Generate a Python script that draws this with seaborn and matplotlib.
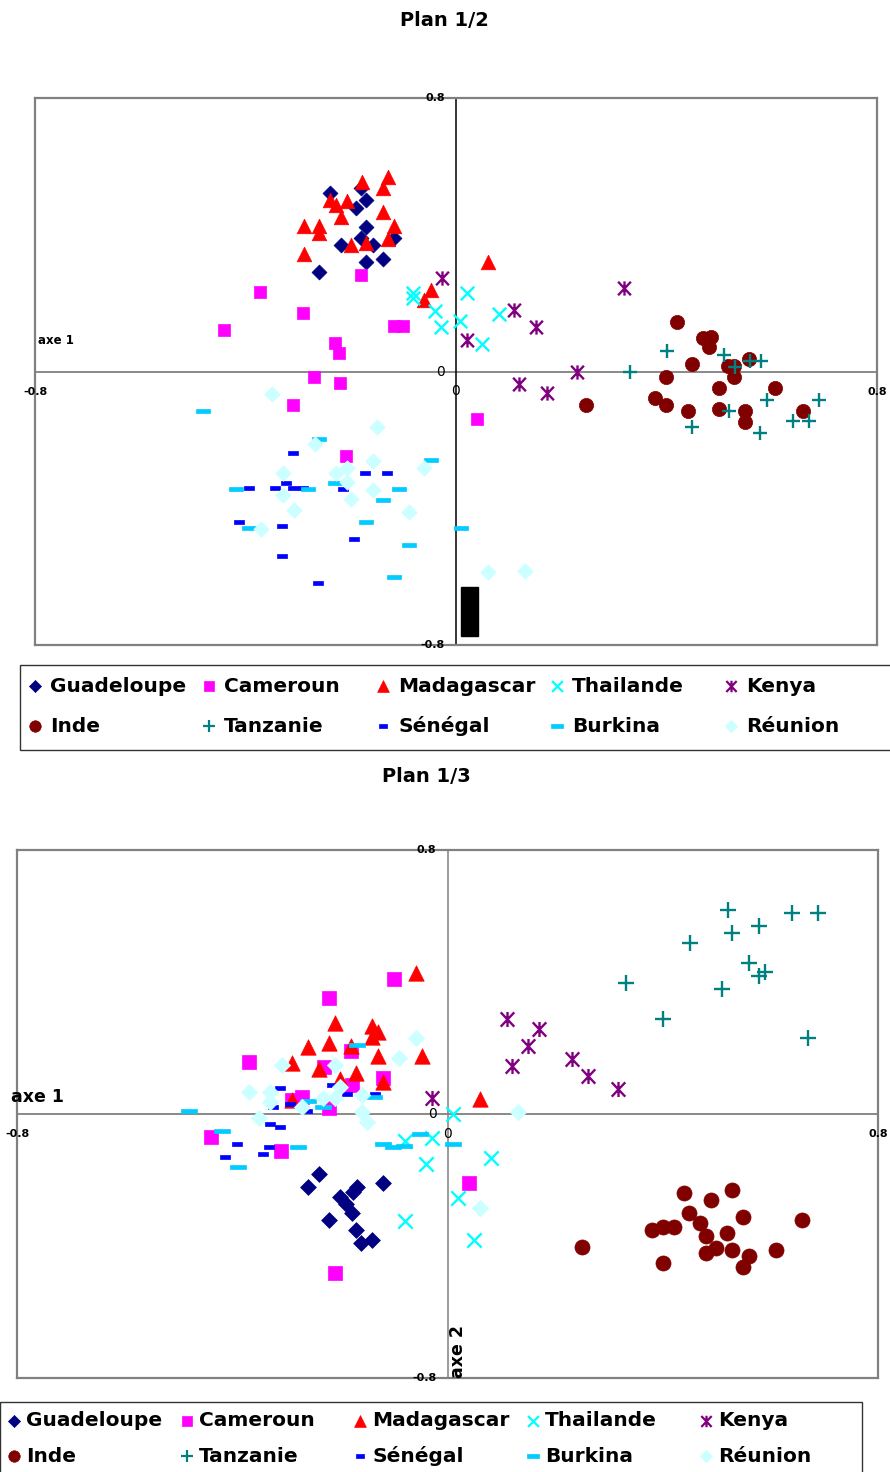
import matplotlib
matplotlib.use('Agg')
import matplotlib.pyplot as plt
import seaborn as sns
from matplotlib.path import Path
from matplotlib.patches import Rectangle

# Plan 1/2 (axe 1 x axe 2)
p12_guadeloupe = [(-0.240, 0.522), (-0.181, 0.537), (-0.171, 0.501), (-0.190, 0.478), (-0.171, 0.423),
                  (-0.181, 0.390), (-0.219, 0.370), (-0.158, 0.370), (-0.118, 0.390), (-0.171, 0.320),
                  (-0.139, 0.329), (-0.260, 0.291)]
p12_cameroun = [(-0.181, 0.282), (-0.373, 0.232), (-0.291, 0.171), (-0.441, 0.121), (-0.118, 0.133),
                (-0.101, 0.133), (-0.230, 0.083), (-0.222, 0.054), (-0.270, -0.016), (-0.221, -0.034),
                (-0.310, -0.098), (-0.209, -0.247), (0.040, -0.139)]
p12_madagascar = [(-0.179, 0.554), (-0.129, 0.569), (-0.139, 0.537), (-0.240, 0.501), (-0.228, 0.487),
                  (-0.207, 0.499), (-0.139, 0.466), (-0.219, 0.452), (-0.289, 0.425), (-0.260, 0.425),
                  (-0.260, 0.405), (-0.118, 0.425), (-0.200, 0.370), (-0.171, 0.376), (-0.129, 0.387),
                  (-0.289, 0.344), (0.061, 0.320), (-0.048, 0.238), (-0.061, 0.209)]
p12_thailande = [(-0.082, 0.230), (-0.082, 0.215), (-0.040, 0.176), (-0.029, 0.130), (0.021, 0.230),
                 (0.008, 0.148), (0.049, 0.081), (0.082, 0.168)]
p12_kenya = [(-0.027, 0.273), (0.021, 0.092), (0.110, 0.180), (0.152, 0.130), (0.319, 0.244),
             (0.230, 0.000), (0.120, -0.037), (0.173, -0.063)]
p12_inde = [(0.420, 0.145), (0.470, 0.098), (0.485, 0.101), (0.481, 0.072), (0.449, 0.022),
            (0.517, 0.016), (0.529, 0.016), (0.529, -0.016), (0.557, 0.037), (0.399, -0.016),
            (0.500, -0.048), (0.606, -0.048), (0.247, -0.098), (0.378, -0.077), (0.399, -0.098),
            (0.441, -0.115), (0.500, -0.110), (0.549, -0.115), (0.549, -0.148), (0.660, -0.115)]
p12_tanzanie = [(0.401, 0.060), (0.331, 0.000), (0.510, 0.048), (0.530, 0.013), (0.559, 0.031),
                (0.580, 0.031), (0.591, -0.083), (0.690, -0.083), (0.519, -0.115), (0.449, -0.162),
                (0.578, -0.180), (0.641, -0.145), (0.671, -0.145)]
p12_senegal = [(-0.310, -0.238), (-0.173, -0.297), (-0.131, -0.297), (-0.394, -0.341), (-0.344, -0.341),
               (-0.323, -0.326), (-0.310, -0.341), (-0.291, -0.341), (-0.215, -0.344), (-0.413, -0.440),
               (-0.331, -0.452), (-0.194, -0.490), (-0.331, -0.539), (-0.262, -0.618)]
p12_burkina = [(-0.481, -0.115), (-0.260, -0.197), (-0.418, -0.344), (-0.281, -0.344), (-0.230, -0.326),
               (-0.048, -0.259), (-0.108, -0.344), (-0.139, -0.376), (-0.394, -0.458), (-0.171, -0.440),
               (0.010, -0.458), (-0.089, -0.507), (-0.118, -0.601)]
p12_reunion = [(-0.350, -0.066), (-0.150, -0.162), (-0.268, -0.212), (-0.329, -0.297), (-0.228, -0.297),
               (-0.207, -0.282), (-0.158, -0.262), (-0.061, -0.282), (-0.207, -0.323), (-0.329, -0.361),
               (-0.158, -0.346), (-0.200, -0.373), (-0.308, -0.405), (-0.089, -0.411), (-0.371, -0.461),
               (0.061, -0.586), (0.131, -0.583)]

# Plan 1/3 (axe 1 x axe 3)
p13_guadeloupe = [(-0.239, -0.182), (-0.259, -0.221), (-0.168, -0.221), (-0.176, -0.236), (-0.200, -0.252),
                  (-0.189, -0.273), (-0.178, -0.300), (-0.120, -0.209), (-0.220, -0.321), (-0.170, -0.352),
                  (-0.161, -0.391), (-0.140, -0.382)]
p13_cameroun = [(-0.099, 0.409), (-0.220, 0.352), (-0.369, 0.158), (-0.179, 0.191), (-0.230, 0.142),
                (-0.120, 0.109), (-0.270, 0.052), (-0.289, 0.042), (-0.178, 0.088), (-0.220, 0.018),
                (-0.440, -0.070), (-0.309, -0.112), (0.040, -0.209), (-0.209, -0.482)]
p13_madagascar = [(-0.059, 0.427), (-0.209, 0.276), (-0.140, 0.267), (-0.129, 0.248), (-0.140, 0.233),
                  (-0.259, 0.203), (-0.220, 0.215), (-0.179, 0.206), (-0.289, 0.155), (-0.129, 0.176),
                  (-0.047, 0.176), (-0.239, 0.136), (-0.170, 0.124), (-0.200, 0.106), (-0.120, 0.097),
                  (-0.289, 0.042), (0.060, 0.045)]
p13_thailande = [(0.010, 0.000), (-0.079, -0.082), (-0.029, -0.073), (-0.040, -0.152), (0.081, -0.133),
                 (0.020, -0.255), (-0.079, -0.324), (0.049, -0.382)]
p13_kenya = [(-0.029, 0.048), (0.111, 0.288), (0.170, 0.258), (0.150, 0.206), (0.120, 0.145),
             (0.231, 0.167), (0.261, 0.115), (0.317, 0.076)]
p13_inde = [(0.440, -0.239), (0.490, -0.261), (0.529, -0.230), (0.449, -0.300), (0.549, -0.312),
            (0.659, -0.321), (0.469, -0.330), (0.380, -0.352), (0.401, -0.342), (0.421, -0.342),
            (0.480, -0.370), (0.520, -0.361), (0.250, -0.403), (0.480, -0.421), (0.499, -0.406),
            (0.529, -0.412), (0.560, -0.430), (0.610, -0.412), (0.401, -0.452), (0.549, -0.464)]
p13_tanzanie = [(0.522, 0.618), (0.640, 0.609), (0.689, 0.609), (0.579, 0.570), (0.529, 0.548),
                (0.451, 0.518), (0.560, 0.458), (0.590, 0.430), (0.579, 0.418), (0.332, 0.397),
                (0.510, 0.379), (0.401, 0.288), (0.670, 0.230)]
p13_senegal = [(-0.311, 0.079), (-0.324, 0.021), (-0.293, 0.030), (-0.215, 0.088), (-0.187, 0.061),
               (-0.135, 0.061), (-0.261, 0.009), (-0.330, -0.030), (-0.311, -0.039), (-0.391, -0.091),
               (-0.332, -0.100), (-0.414, -0.130), (-0.343, -0.121)]
p13_burkina = [(-0.480, 0.009), (-0.168, 0.209), (-0.137, 0.052), (-0.231, 0.021), (-0.259, 0.039),
               (-0.419, -0.052), (-0.389, -0.161), (-0.278, -0.100), (-0.120, -0.091), (-0.101, -0.100),
               (-0.081, -0.097), (-0.051, -0.061), (0.010, -0.091)]
p13_reunion = [(-0.059, 0.230), (-0.090, 0.170), (-0.308, 0.148), (-0.209, 0.148), (-0.369, 0.067),
               (-0.330, 0.067), (-0.330, 0.036), (-0.270, 0.021), (-0.231, 0.048), (-0.200, 0.082),
               (-0.209, 0.048), (-0.159, 0.058), (-0.159, 0.006), (-0.350, -0.012), (-0.150, -0.024),
               (0.131, 0.006), (0.060, -0.285)]

pays = ['Guadeloupe', 'Cameroun', 'Madagascar', 'Thailande', 'Kenya',
        'Inde', 'Tanzanie', 'Sénégal', 'Burkina', 'Réunion']
plan12 = [p12_guadeloupe, p12_cameroun, p12_madagascar, p12_thailande, p12_kenya,
          p12_inde, p12_tanzanie, p12_senegal, p12_burkina, p12_reunion]
plan13 = [p13_guadeloupe, p13_cameroun, p13_madagascar, p13_thailande, p13_kenya,
          p13_inde, p13_tanzanie, p13_senegal, p13_burkina, p13_reunion]

# tache noire presente dans le graphique d'origine (x, y, largeur, hauteur)
tache_noire = (0.010, -0.773, 0.032, 0.143)

# marqueurs style Excel
M, L = Path.MOVETO, Path.LINETO
etoile = Path([(0, -1), (0, 1), (-0.9, -0.95), (0.9, 0.95), (-0.9, 0.95), (0.9, -0.95)],
              [M, L, M, L, M, L])
tiret_court = Path([(-1, -0.45), (1, -0.45), (1, 0.45), (-1, 0.45), (-1, -0.45)])
tiret_long = Path([(-1, -0.28), (1, -0.28), (1, 0.28), (-1, 0.28), (-1, -0.28)])

styles = {
    'Guadeloupe': dict(marker='D', color='#000080', s=58, filled=True),
    'Cameroun': dict(marker='s', color='#FF00FF', s=85, filled=True),
    'Madagascar': dict(marker='^', color='#FF0000', s=110, filled=True),
    'Thailande': dict(marker='x', color='#00FFFF', s=95, filled=False),
    'Kenya': dict(marker=etoile, color='#800080', s=105, filled=False),
    'Inde': dict(marker='o', color='#800000', s=105, filled=True),
    'Tanzanie': dict(marker='+', color='#008080', s=110, filled=False),
    'Sénégal': dict(marker=tiret_court, color='#0000FF', s=45, filled=True),
    'Burkina': dict(marker=tiret_long, color='#00CCFF', s=105, filled=True),
    'Réunion': dict(marker='D', color='#CCFFFF', s=62, filled=True),
}

sns.set_theme(style='white')
plt.rcParams['font.family'] = ['DejaVu Sans']
plt.rcParams['text.color'] = 'black'

fig = plt.figure(figsize=(8.9, 14.72), dpi=100)
W, H = 890, 1472

# axe de fond (coordonnees en pixels) pour titres et legendes
bg = fig.add_axes([0, 0, 1, 1])
bg.set_xlim(0, W)
bg.set_ylim(H, 0)
bg.axis('off')


def draw_marker(ax, x, y, nom, scale=1.0):
    st = styles[nom]
    lw = 0.5 if st['filled'] else 1.6
    ax.scatter([x], [y], marker=st['marker'], s=st['s'] * scale, c=st['color'],
               edgecolors=st['color'], linewidths=lw, zorder=3)


def plot_plan(rect, donnees, vline_color, small_axe_label, scale=1.0):
    ax = fig.add_axes(rect)
    for nom, pts in zip(pays, donnees):
        st = styles[nom]
        xs = [p[0] for p in pts]
        ys = [p[1] for p in pts]
        lw = 0.5 if st['filled'] else 1.7
        sns.scatterplot(x=xs, y=ys, ax=ax, marker=st['marker'], s=st['s'] * scale,
                        color=st['color'], edgecolor=st['color'], linewidth=lw,
                        legend=False, zorder=3)
    ax.set_xlim(-0.8, 0.8)
    ax.set_ylim(-0.8, 0.8)
    ax.set_xticks([])
    ax.set_yticks([])
    ax.set_xlabel('')
    ax.set_ylabel('')
    for sp in ax.spines.values():
        sp.set_color('#808080')
        sp.set_linewidth(1.6)
    ax.axhline(0, color='#808080', lw=1.3, zorder=1)
    ax.axvline(0, color=vline_color, lw=1.1, zorder=1)

    bold8 = dict(fontsize=8, fontweight='bold', color='black', annotation_clip=False)
    # etiquettes de l'axe vertical
    ax.annotate('0.8', xy=(0, 0.8), xytext=(-8, 0), textcoords='offset points',
                ha='right', va='center', **bold8)
    ax.annotate('-0.8', xy=(0, -0.8), xytext=(-8, 0), textcoords='offset points',
                ha='right', va='center', **bold8)
    ax.annotate('0', xy=(0, 0), xytext=(-8, 0), textcoords='offset points',
                ha='right', va='center', fontsize=10, color='black', annotation_clip=False)
    # etiquettes de l'axe horizontal
    ax.annotate('0', xy=(0, 0), xytext=(0, -9), textcoords='offset points',
                ha='center', va='top', fontsize=10, color='black', annotation_clip=False)
    ax.annotate('-0.8', xy=(-0.8, 0), xytext=(0, -11), textcoords='offset points',
                ha='center', va='top', **bold8)
    ax.annotate('0.8', xy=(0.8, 0), xytext=(0, -11), textcoords='offset points',
                ha='center', va='top', **bold8)
    if small_axe_label:
        ax.annotate('axe 1', xy=(-0.8, 0), xytext=(2, 22), textcoords='offset points',
                    ha='left', va='center', fontsize=8.5, fontweight='bold', color='black',
                    annotation_clip=False)
    else:
        ax.annotate('axe 1', xy=(-0.8, 0), xytext=(-4, 12), textcoords='offset points',
                    ha='left', va='center', fontsize=12.5, fontweight='bold', color='black',
                    annotation_clip=False)
        ax.text(0.002, -0.8, 'axe 2', rotation=90, ha='left', va='bottom',
                fontsize=12.5, fontweight='bold', color='black')
    return ax


ax1 = plot_plan([35 / W, 1 - 645 / H, 842 / W, 547 / H], plan12, 'black', True)
ax1.add_patch(Rectangle(tache_noire[:2], tache_noire[2], tache_noire[3],
                        facecolor='black', edgecolor='black', zorder=4))
ax2 = plot_plan([17 / W, 1 - 1378 / H, 861 / W, 528 / H], plan13, '#808080', False, scale=1.12)

# titres
bg.text(444, 20, 'Plan 1/2', ha='center', va='center', fontsize=14, fontweight='bold', color='black')
bg.text(426, 776, 'Plan 1/3', ha='center', va='center', fontsize=14, fontweight='bold', color='black')


def draw_legend(box, x_marker, x_text, step, rows_y):
    bg.add_patch(Rectangle(box[:2], box[2], box[3], facecolor='none',
                           edgecolor='#333333', lw=1.0))
    for i, nom in enumerate(pays):
        r, c = divmod(i, 5)
        draw_marker(bg, x_marker + c * step, rows_y[r], nom, scale=0.65)
        bg.text(x_text + c * step, rows_y[r], nom, ha='left', va='center',
                fontsize=14.5, fontweight='bold', color='black')


draw_legend((20, 665, 880, 85), 35, 50, 174, (686, 726))
draw_legend((0, 1402, 862, 80), 14, 26, 173, (1421, 1456))

fig.savefig('out.png', dpi=100)
